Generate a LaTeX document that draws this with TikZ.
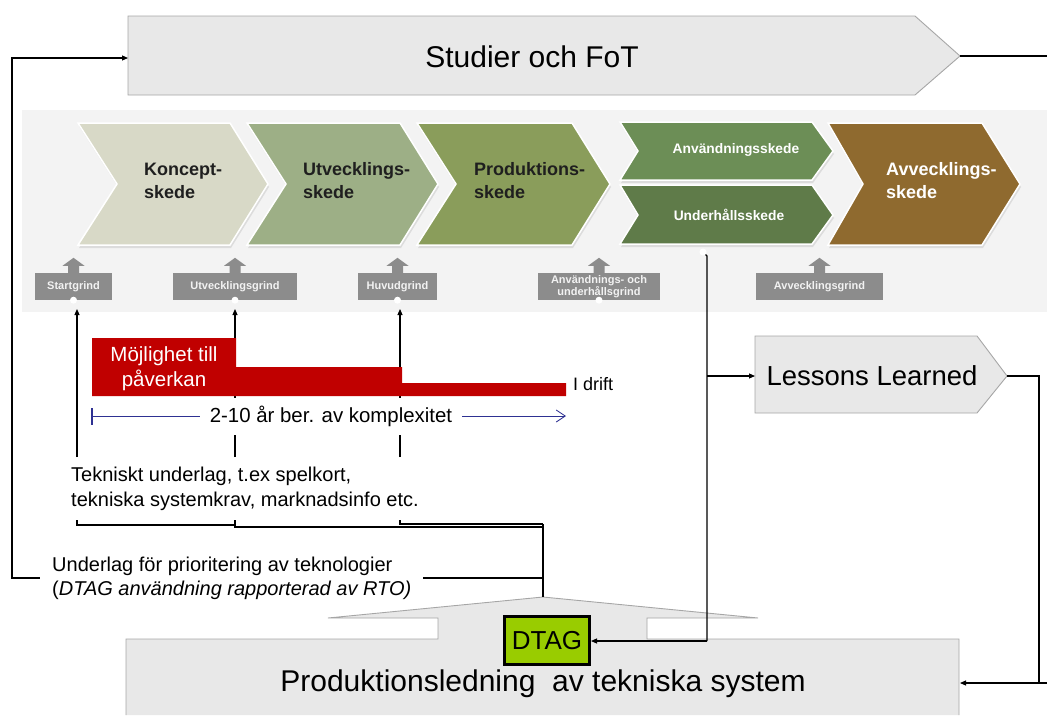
\documentclass[tikz,border=0pt]{standalone}
\usepackage{fontspec}
\setmainfont{Liberation Sans}
\usetikzlibrary{arrows.meta,shadows}
\definecolor{boxgray}{HTML}{E8E8E8}
\definecolor{edgegray}{HTML}{A6A6A6}
\definecolor{band}{HTML}{F3F3F3}
\definecolor{cKon}{HTML}{D8D9C7}
\definecolor{cUtv}{HTML}{9DAF86}
\definecolor{cPro}{HTML}{8A9D5B}
\definecolor{cAnv}{HTML}{6C8E56}
\definecolor{cUnd}{HTML}{5F7B49}
\definecolor{cAvv}{HTML}{8F6A2F}
\definecolor{gategray}{HTML}{8C8C8C}
\definecolor{redbar}{HTML}{C00000}
\definecolor{navy}{HTML}{2E3192}
\definecolor{dtaggreen}{HTML}{99CC00}
\begin{document}
\begin{tikzpicture}[x=1pt,y=-1pt,
  conn/.style={line width=1.1pt, draw=black},
  arr/.style={conn, -{Triangle[length=6pt,width=5pt]}},
  graybox/.style={fill=boxgray, draw=edgegray, line width=0.9pt},
  chev/.style={draw=white, line width=1.5pt, drop shadow={shadow xshift=1pt,shadow yshift=-3pt,opacity=0.2}},
  phasetxt/.style={font=\fontsize{18}{23}\selectfont\bfseries, align=left, anchor=west, inner sep=0pt},
  subphase/.style={font=\fontsize{13.8}{16}\selectfont\bfseries, text=white, inner sep=0pt},
  gatebox/.style={fill=gategray, text=white!90!gray, font=\fontsize{11}{11.5}\selectfont\bfseries, inner sep=0pt, minimum height=27pt, align=center},
  gatearr/.pic={\fill[gategray] (-5.5,0) -- (-5.5,-7) -- (-11,-7) -- (0,-15) -- (11,-7) -- (5.5,-7) -- (5.5,0) -- cycle;},
  body/.style={font=\fontsize{20}{25}\selectfont, inner sep=0pt, align=left},
  dot/.style={circle, fill=white, inner sep=0pt, minimum size=7pt}
]
\useasboundingbox (0,0) rectangle (1047,715);

% ---------- Studier och FoT ----------
\path[graybox] (128,16) -- (915,16) -- (960,56) -- (915,95) -- (128,95) -- cycle;
\node[font=\fontsize{30}{34}\selectfont] (stud) at (532,57) {Studier och FoT};
\coordinate (studL) at (128,58);
\coordinate (studR) at (960,56);
\coordinate (edgeTop) at (1047,56);
\draw[conn] (studR) -- (edgeTop);

% ---------- phase band ----------
\fill[band] (22,110) rectangle (1047,312);
\path[chev, fill=cKon] (78,123) -- (230,123) -- (268,184) -- (230,245) -- (78,245) -- (117,184) -- cycle;
\path[chev, fill=cUtv] (247,123) -- (400,123) -- (438,184) -- (400,245) -- (247,245) -- (286,184) -- cycle;
\path[chev, fill=cPro] (417,123) -- (572,123) -- (610,184) -- (572,245) -- (417,245) -- (456,184) -- cycle;
\path[chev, fill=cAnv] (620,122) -- (812,122) -- (833,151) -- (812,180) -- (620,180) -- (638,151) -- cycle;
\path[chev, fill=cUnd] (620,185) -- (812,185) -- (833,215) -- (812,244) -- (620,244) -- (638,215) -- cycle;
\path[chev, fill=cAvv] (828,123) -- (982,123) -- (1020,184) -- (982,245) -- (828,245) -- (863,184) -- cycle;

\node[phasetxt, text=black!88] (pKon) at (144,181) {Koncept-\\skede};
\node[phasetxt, text=black!88] (pUtv) at (303,181) {Utvecklings-\\skede};
\node[phasetxt, text=black!88] (pPro) at (474,181) {Produktions-\\skede};
\node[subphase] (pAnv) at (736,150) {Användningsskede};
\node[subphase] (pUnd) at (729,215) {Underhållsskede};
\node[phasetxt, text=white] (pAvv) at (886,181) {Avvecklings-\\skede};

% ---------- gates ----------
\node[gatebox, minimum width=77pt] (g1) at (73.5,286.5) {Startgrind};
\node[gatebox, minimum width=124pt] (g2) at (235,286.5) {Utvecklingsgrind};
\node[gatebox, minimum width=79pt] (g3) at (397.5,286.5) {Huvudgrind};
\node[gatebox, minimum width=122pt] (g4) at (599,286.5) {Användnings- och\\underhållsgrind};
\node[gatebox, minimum width=127pt] (g5) at (819.5,286.5) {Avvecklingsgrind};
\pic at (g1.north) {gatearr};
\pic at (g2.north) {gatearr};
\pic at (g3.north) {gatearr};
\pic at (g4.north) {gatearr};
\pic at (g5.north) {gatearr};
\node[dot] (d1) at (g1.south) {};
\node[dot] (d2) at (g2.south) {};
\node[dot] (d3) at (g3.south) {};
\node[dot] (d4) at (g4.south) {};
\node[dot] (d5) at (703,252) {};

% ---------- arrows from Tekniskt underlag to gates ----------
\coordinate (t1) at (77,457);
\coordinate (t2) at (235,457);
\coordinate (t3) at (400,457);
\coordinate (a1) at (77,309);
\coordinate (a2) at (235,309);
\coordinate (a3) at (400,309);
\draw[arr] (t1) -- (a1);
\draw[arr] (t2) -- (a2);
\draw[arr] (t3) -- (a3);

% ---------- red influence bar ----------
\fill[redbar] (92,338) -- (236,338) -- (236,367) -- (402,367) -- (402,383) -- (566,383) -- (566,396) -- (92,396) -- cycle;
\node[font=\fontsize{20.5}{25}\selectfont, text=white, align=center, inner sep=0pt] (mojl) at (164,369) {Möjlighet till\\påverkan};
\node[font=\fontsize{18}{21}\selectfont, anchor=west, inner sep=0pt] (drift) at (573,384) {I drift};

% ---------- duration ----------
\node[font=\fontsize{20.4}{23}\selectfont, fill=white, minimum height=37pt, inner xsep=10pt, inner ysep=0pt] (dur) at (331,416) {2-10 år ber. av komplexitet};
\coordinate (durL) at (92,416);
\coordinate (durR) at (566,416);
\draw[navy, line width=1.6pt] (92,408) -- (92,425);
\draw[navy, line width=0.9pt] (durL) -- (dur.west);
\draw[navy, line width=0.9pt, -{Straight Barb[length=9pt,width=12pt]}] (dur.east) -- (durR);

% ---------- Tekniskt underlag ----------
\node[body, anchor=west] (tek) at (71,489) {Tekniskt underlag, t.ex spelkort,\\tekniska systemkrav, marknadsinfo etc.};
\coordinate (join) at (543,524);
\draw[conn] (77,520) -- (77,525) -- (235,525);
\draw[conn] (235,520) -- (235,527) -- (543,527);
\draw[conn] (400,520) -- (400,524) -- (join);

% ---------- Produktionsledning callout ----------
\fill[boxgray] (126,715) -- (126,639) -- (438,639) -- (438,618) -- (328,618) -- (543,597) -- (758,618) -- (647,618) -- (647,639) -- (959,639) -- (959,715) -- cycle;
\draw[edgegray, line width=0.9pt] (126,715) -- (126,639) -- (438,639) -- (438,618) -- (328,618) -- (543,597) -- (758,618) -- (647,618) -- (647,639) -- (959,639) -- (959,715);
\node[font=\fontsize{30}{34}\selectfont, inner sep=0pt] (prod) at (543,684) {Produktionsledning\ \ av tekniska system};
\coordinate (peak) at (543,597);
\coordinate (prodR) at (960,683);
\node[fill=dtaggreen, draw=black, line width=3pt, minimum width=85pt, minimum height=48pt, inner sep=0pt, font=\fontsize{26}{28}\selectfont] (dtag) at (547,640.5) {DTAG};

\draw[conn] (join) -- (peak);

% ---------- Underlag / feedback to Studier ----------
\coordinate (fbA) at (543,578);
\coordinate (fbB) at (12,578);
\coordinate (fbC) at (12,58);
\draw[arr] (fbA) -- (fbB) -- (fbC) -- (studL);
\node[body, fill=white, anchor=west, inner xsep=12pt, inner ysep=2pt, font=\fontsize{20}{24}\selectfont] (und) at (40,578) {Underlag för prioritering av teknologier\\(\textit{DTAG användning rapporterad av RTO)}};

% ---------- Lessons Learned ----------
\path[graybox] (755,336) -- (977,336) -- (1007,376) -- (977,413) -- (755,413) -- cycle;
\node[font=\fontsize{27.5}{30}\selectfont] (ll) at (872,376) {Lessons Learned};
\coordinate (llL) at (755,376);
\coordinate (llR) at (1007,376);
\coordinate (v1) at (707,256);
\coordinate (v2) at (707,641);
\coordinate (v3) at (707,376);
\draw[conn] (d5.south east) -- (v1) -- (v2);
\draw[arr] (v2) -- (dtag.east |- v2);
\draw[arr] (v3) -- (llL);
\coordinate (r1) at (1039,376);
\coordinate (r2) at (1039,683);
\coordinate (edgeBot) at (1047,683);
\draw[conn] (llR) -- (r1) -- (r2);
\draw[arr] (edgeBot) -- (prodR);
\end{tikzpicture}
\end{document}
